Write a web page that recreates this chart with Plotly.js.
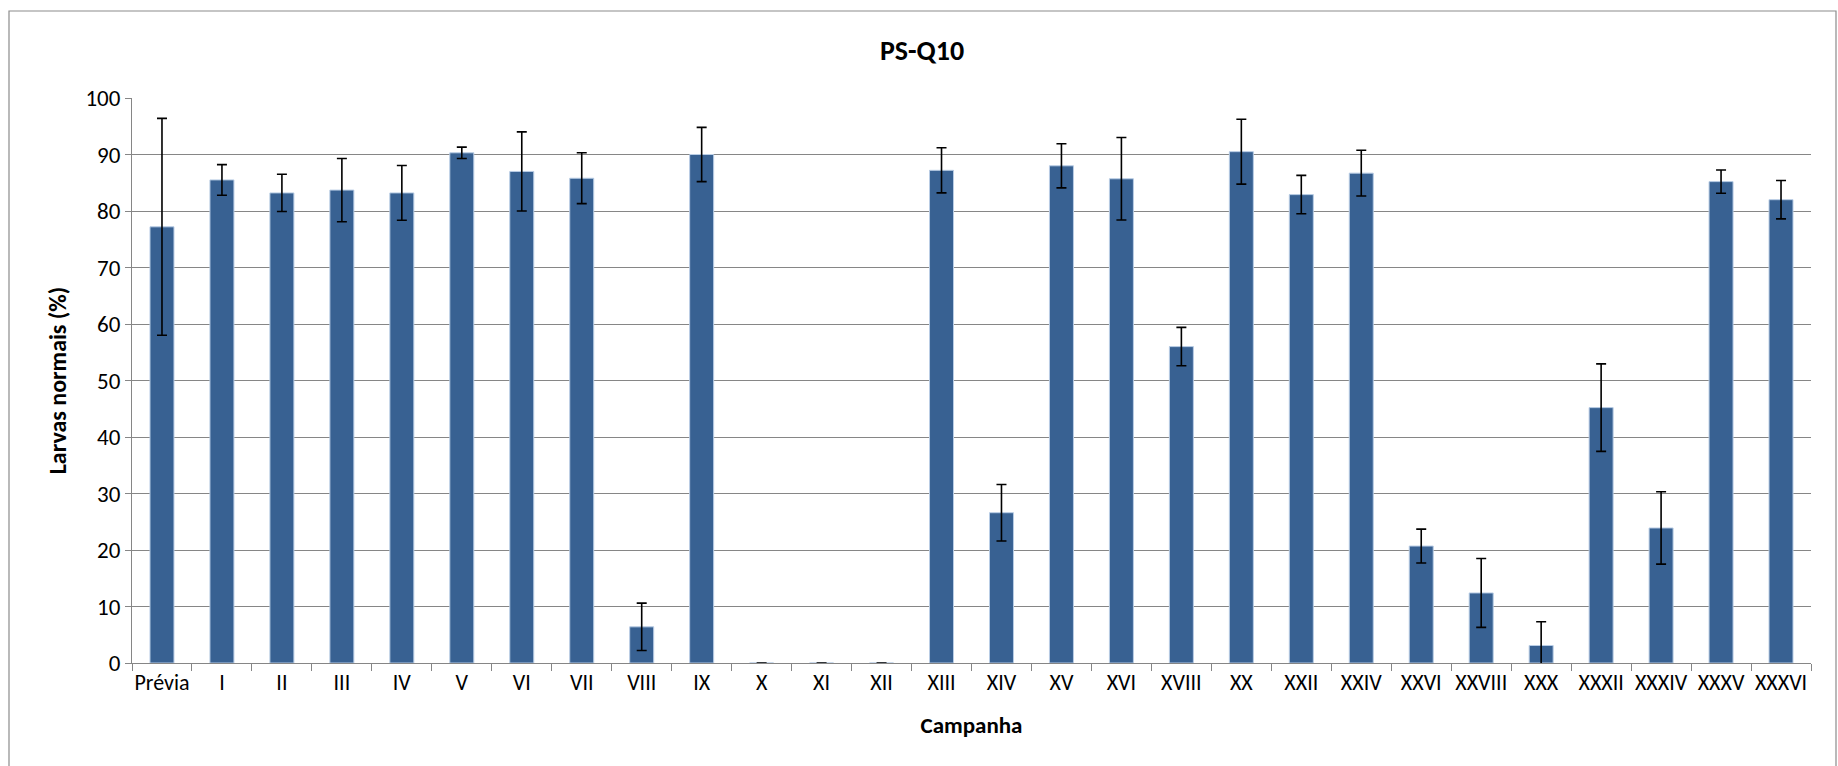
<!DOCTYPE html>
<html>
<head>
<meta charset="utf-8">
<script src="https://cdn.plot.ly/plotly-3.0.1.min.js"></script>
<style>html,body{margin:0;padding:0;background:#fff;}#chart{width:1838px;height:766px;}</style>
</head>
<body>
<div id="chart"></div>
<script>
const campanhas = ["Prévia","I","II","III","IV","V","VI","VII","VIII","IX","X","XI","XII","XIII","XIV","XV","XVI","XVIII","XX","XXII","XXIV","XXVI","XXVIII","XXX","XXXII","XXXIV","XXXV","XXXVI"];
const larvasNormais = [77.2,85.5,83.2,83.7,83.2,90.3,87.0,85.8,6.4,90.0,0,0,0,87.2,26.6,88.0,85.7,56.0,90.5,82.9,86.7,20.7,12.4,3.1,45.2,23.9,85.2,82.0];
const desvioPadrao = [19.2,2.7,3.3,5.6,4.85,1.0,7.0,4.5,4.2,4.8,0,0,0,4.0,5.0,3.9,7.3,3.4,5.75,3.4,4.05,3.0,6.1,4.2,7.75,6.4,2.05,3.4];
const yTicks = [0,10,20,30,40,50,60,70,80,90,100];

const FONT = 'Carlito, Calibri, "Liberation Sans Narrow", "Open Sans", sans-serif';

const trace = {
  type: 'bar',
  x: campanhas,
  y: larvasNormais,
  marker: {color: '#386192', line: {color: '#b9cde5', width: 1}},
  error_y: {type: 'data', array: desvioPadrao, visible: true, color: '#000', thickness: 1.6, width: 5},
  hoverinfo: 'x+y'
};

const PL = 132, PR = 1811, PT = 98, PB = 663;
const PW = PR - PL, PH = PB - PT;

const layout = {
  width: 1838, height: 766,
  margin: {l: PL, r: 1838 - PR, t: PT, b: 766 - PB},
  paper_bgcolor: '#fff', plot_bgcolor: '#fff',
  showlegend: false,
  bargap: 0.6,
  font: {family: FONT, color: '#000', size: 22},
  title: {text: '<b>PS-Q10</b>', font: {family: FONT, size: 28, color: '#000'}, x: 922/1838, xref: 'container', xanchor: 'center', y: 1 - 50/766, yref: 'container', yanchor: 'middle'},
  xaxis: {
    type: 'category',
    tickson: 'boundaries',
    tickangle: 0,
    ticks: 'outside', ticklen: 7, tickcolor: '#868686', tickwidth: 1,
    showline: true, linecolor: '#868686', linewidth: 1,
    showgrid: false,
    tickfont: {family: FONT, size: 22, color: '#000'},
    title: {text: '<b>Campanha</b>', font: {family: FONT, size: 23, color: '#000'}, standoff: 21},
    automargin: false
  },
  yaxis: {
    range: [0, 100],
    tickvals: yTicks,
    ticktext: yTicks.map(String),
    ticks: 'outside', ticklen: 6, tickcolor: '#868686', tickwidth: 1,
    showline: true, linecolor: '#868686', linewidth: 1,
    showgrid: true, gridcolor: '#868686', gridwidth: 1,
    zeroline: false,
    tickfont: {family: FONT, size: 23, color: '#000'},
    title: {text: '<b>Larvas normais (%)</b>', font: {family: FONT, size: 24, color: '#000'}, standoff: 12},
    automargin: false
  },
  shapes: [{
    type: 'rect', xref: 'paper', yref: 'paper', layer: 'below',
    x0: (9 - PL) / PW, x1: (1836 - PL) / PW, y0: -0.25, y1: (PB - 11) / PH,
    line: {color: '#8c8c8c', width: 1.2}, fillcolor: 'rgba(0,0,0,0)'
  }]
};

Plotly.newPlot('chart', [trace], layout, {displayModeBar: false, staticPlot: true});
</script>
</body>
</html>
